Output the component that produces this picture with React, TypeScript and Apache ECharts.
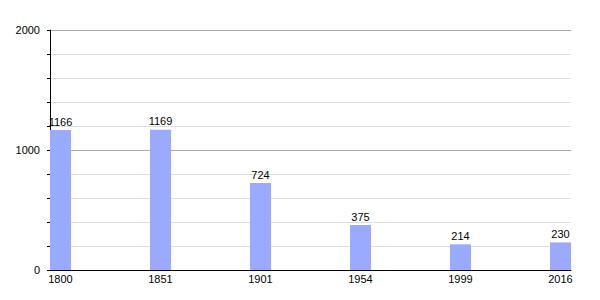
import React, { useEffect, useRef } from "react";
import * as echarts from "echarts";

const years = ["1800", "1851", "1901", "1954", "1999", "2016"];
const population = [1166, 1169, 724, 375, 214, 230];
const yTicks = [0, 1000, 2000];

export default function App() {
  const ref = useRef<HTMLDivElement>(null);
  useEffect(() => {
    if (!ref.current) return;
    const chart = echarts.init(ref.current, undefined, { renderer: "svg" });
    const font = "11px 'Liberation Sans', Arial, sans-serif";
    chart.setOption({
      animation: false,
      backgroundColor: "#fff",
      grid: { left: 50, right: 29, top: 30, bottom: 30 },
      xAxis: {
        type: "value",
        min: 0,
        max: 5.21,
        interval: 1,
        axisLine: { show: true, onZero: false, lineStyle: { color: "#000", width: 1 } },
        axisTick: { show: false },
        axisLabel: { show: false },
        splitLine: { show: false },
      },
      yAxis: {
        type: "value",
        min: 0,
        max: 2000,
        interval: 200,
        axisLine: { show: true, lineStyle: { color: "#000", width: 1 } },
        axisTick: { show: true, length: 3, lineStyle: { color: "#000" } },
        axisLabel: {
          margin: 10,
          color: "#000",
          fontSize: 11,
          fontFamily: "'Liberation Sans', Arial, sans-serif",
          formatter: (v: number) => (yTicks.includes(v) ? String(v) : ""),
        },
        splitLine: {
          show: true,
          lineStyle: { color: ["#aaaaaa", "#dddddd", "#dddddd", "#dddddd", "#dddddd"], width: 1 },
        },
      },
      series: [
        {
          type: "custom",
          clip: false,
          data: population.map((v, i) => [i, v]),
          renderItem: (params: any, api: any) => {
            const i = api.value(0);
            const v = api.value(1);
            const p0 = api.coord([i, 0]);
            const p1 = api.coord([i, v]);
            const w = 21;
            return {
              type: "group",
              children: [
                {
                  type: "rect",
                  shape: { x: p0[0], y: p1[1], width: w, height: p0[1] - p1[1] },
                  style: { fill: "#99aaff" },
                },
                {
                  type: "text",
                  style: {
                    text: String(v),
                    x: p0[0] + w / 2,
                    y: p1[1] - 3,
                    align: "center",
                    verticalAlign: "bottom",
                    fill: "#000",
                    font,
                  },
                },
                {
                  type: "text",
                  style: {
                    text: years[i],
                    x: p0[0] + w / 2,
                    y: p0[1] + 3,
                    align: "center",
                    verticalAlign: "top",
                    fill: "#000",
                    font,
                  },
                },
              ],
            };
          },
        },
      ],
    });
    return () => chart.dispose();
  }, []);
  return (
    <div
      ref={ref}
      style={{ position: "absolute", left: 0, top: 0, width: 600, height: 300 }}
    />
  );
}
